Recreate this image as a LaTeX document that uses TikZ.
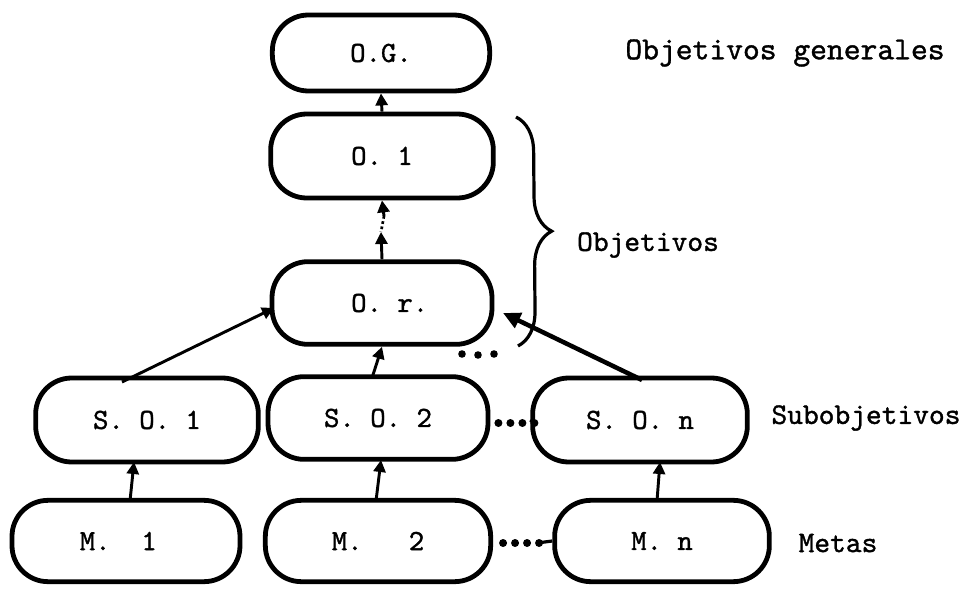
\documentclass[tikz,border=0pt]{standalone}
\usepackage{fontspec}
\newfontfamily\tw{lmmono10-regular.otf}[FakeBold=1.2]
\usetikzlibrary{arrows.meta,decorations.pathreplacing}
\begin{document}
\begin{tikzpicture}[x=0.75pt,y=-0.75pt,
  blob/.style={draw, line width=3.6pt, rounded corners=27pt, inner sep=0pt,
    font=\tw\fontsize{22}{22}\selectfont},
  lbl/.style={font=\tw\fontsize{22.5}{22.5}\selectfont, inner sep=0pt},
  up/.style={line width=2.2pt, -{Triangle[length=9pt,width=9pt]}},
  dotrow/.style={line width=6pt, line cap=round, dash pattern=on 0pt off 9pt},
]
\useasboundingbox (0,0) rectangle (965,589);

% goal hierarchy
\node[blob, minimum width=163pt, minimum height=57pt] (og) at (381,53) {O.G.};
\node[blob, minimum width=167pt, minimum height=63pt] (o1) at (382,156) {O.~1};
\node[blob, minimum width=165pt, minimum height=62pt] (or) at (382,303) {~O.~r.};
\node[blob, minimum width=167pt, minimum height=63pt] (so1) at (147,420) {S.~O.~1};
\node[blob, minimum width=165pt, minimum height=62pt] (so2) at (378,418) {S.~O.~2};
\node[blob, minimum width=161pt, minimum height=63pt] (son) at (640,420) {S.~O.~n~};
\node[blob, minimum width=171pt, minimum height=61pt] (m1) at (126,541) {M.~~1~~};
\node[blob, minimum width=169pt, minimum height=61pt] (m2) at (378,541) {M.~~~2~};
\node[blob, minimum width=161pt, minimum height=61pt] (mn) at (662,541) {M.~n~};

% level labels
\node[lbl, font=\tw\fontsize{24}{24}\selectfont] (lg) at (785,53) {Objetivos generales};
\node[lbl] (lo) at (648,245) {Objetivos};
\node[lbl] (ls) at (866,418) {Subobjetivos};
\node[lbl] (lm) at (838,543) {Metas};

% objectives brace
\coordinate (bt) at (516,117);
\coordinate (bb) at (518,346);
\draw[line width=2.4pt, decorate, decoration={brace, amplitude=26pt}] (bt) -- (bb);

% links upward
\draw[up] (o1.north) -- (og.south);
\coordinate (orup) at (381,232);
\coordinate (o1lo) at (384,216);
\draw[up] (or.north) -- (orup);
\draw[line width=2pt, dotted] (o1lo) -- (orup);
\draw[up] (o1lo) -- (o1.south);
\coordinate (so1t) at (122,382);
\coordinate (orl) at (274,308);
\draw[up] (so1t) -- (orl);
\coordinate (so2t) at (372,378);
\draw[up] (so2t) -- (or.south);
\coordinate (sont) at (642,380);
\coordinate (ortip) at (503,313);
\draw[line width=3.4pt, -{Triangle[length=13pt,width=12pt]}] (sont) -- (ortip);
\coordinate (m1t) at (130,501);
\coordinate (so1b) at (134,462);
\draw[up] (m1t) -- (so1b);
\coordinate (m2t) at (376,501);
\coordinate (so2b) at (381,460);
\draw[up] (m2t) -- (so2b);
\coordinate (mnt) at (657,501);
\coordinate (sonb) at (660,462);
\draw[up] (mnt) -- (sonb);

% ellipses between siblings
\fill (462,354) circle (3.8) (478,355) circle (3.8) (494,354) circle (3.8);
\draw[dotrow] (so2.east) ++(8,5) -- ++(36,0);
\draw[line width=2.4pt] (so2.east) ++(44,5) -- (son.west);
\draw[dotrow] (m2.east) ++(10,2) -- ++(36,0);
\draw[line width=2.4pt] (m2.east) ++(44,2) -- (mn.west);
\end{tikzpicture}
\end{document}
